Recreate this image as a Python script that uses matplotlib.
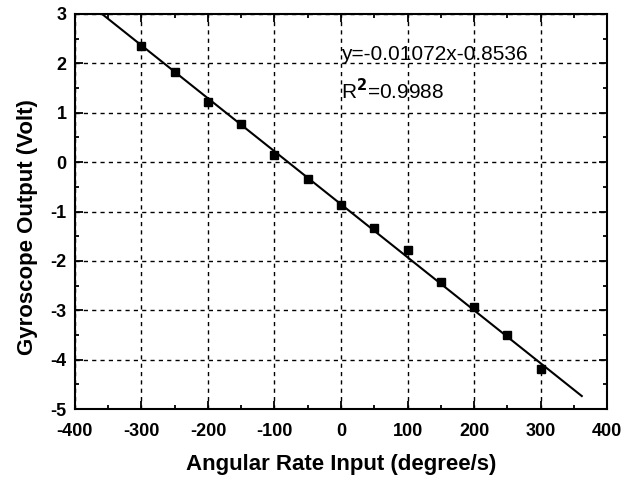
import matplotlib
matplotlib.use("Agg")
import matplotlib.pyplot as plt
import numpy as np
from matplotlib.ticker import MultipleLocator

plt.rcParams['font.family'] = ['Liberation Sans', 'DejaVu Sans']
plt.rcParams['axes.unicode_minus'] = False

rate = [-300, -250, -200, -150, -100, -50, 0, 50, 100, 150, 200, 250, 300]
output = [2.35, 1.83, 1.22, 0.78, 0.15, -0.34, -0.87, -1.33, -1.78, -2.43, -2.93, -3.50, -4.19]
slope = -0.01072
intercept = -0.8536
fit_range = [-360, 362]

fig = plt.figure(figsize=(6.35, 4.78), dpi=100)
ax = fig.add_axes([0.118, 0.144, 0.838, 0.827])

xf = np.array(fit_range)
ax.plot(xf, slope * xf + intercept, color='black', lw=1.5, zorder=3)
ax.plot(rate, output, 's', color='black', ms=6, zorder=4)

ax.set_xlim(-400, 400)
ax.set_ylim(-5, 3)
ax.xaxis.set_major_locator(MultipleLocator(100))
ax.xaxis.set_minor_locator(MultipleLocator(50))
ax.yaxis.set_major_locator(MultipleLocator(1))
ax.yaxis.set_minor_locator(MultipleLocator(0.5))
ax.tick_params(which='both', direction='in', top=True, right=True, width=1.3)
ax.tick_params(which='major', length=6, labelsize=13)
ax.tick_params(axis='x', which='major', pad=10)
ax.tick_params(axis='y', which='major', pad=6)
ax.tick_params(which='minor', length=3)
for lab in ax.get_xticklabels() + ax.get_yticklabels():
    lab.set_fontweight('bold')
ax.grid(True, which='major', linestyle=(0, (3, 3)), color='black', lw=1)
for s in ax.spines.values():
    s.set_linewidth(1.5)

ax.set_xlabel('Angular Rate Input (degree/s)', fontsize=16, fontweight='bold', labelpad=10)
ax.set_ylabel('Gyroscope Output (Volt)', fontsize=16, fontweight='bold', labelpad=6)
ax.yaxis.set_label_coords(-0.07, 0.46)

ax.text(0, 2.17, 'y=-0.01072x-0.8536', fontsize=15, va='center', ha='left')
ax.text(0, 1.44, r'R$^{\mathbf{2}}$=0.9988', fontsize=15, va='center', ha='left')

fig.savefig('out.png', dpi=100)
